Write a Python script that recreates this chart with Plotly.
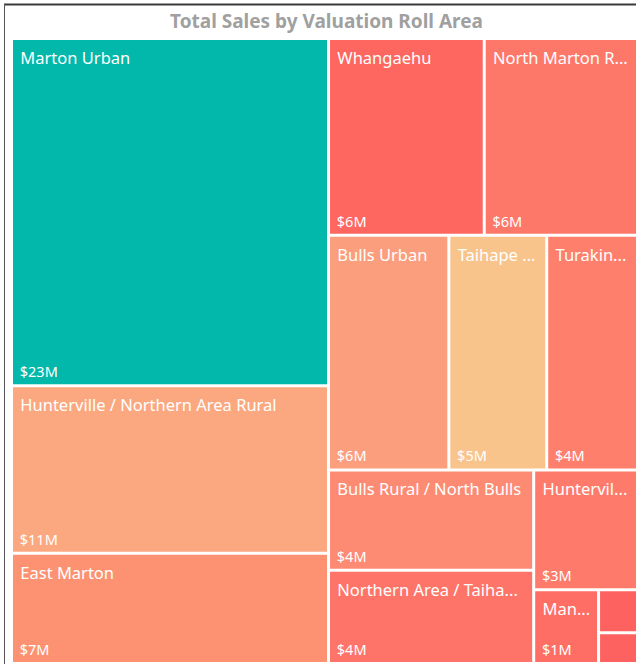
import plotly.graph_objects as go

# ---- data (values in $ millions) ----
areas = [
    "Marton Urban", "Hunterville / Northern Area Rural", "East Marton",
    "Whangaehu", "North Marton R...", "Bulls Urban", "Taihape ...",
    "Turakin...", "Bulls Rural / North Bulls", "Northern Area / Taiha...",
    "Huntervil...", "Man...", "Other A", "Other B",
]
sales_m = [23.0, 11.1, 7.3, 6.4, 6.3, 5.9, 4.8, 4.45, 4.3, 4.0, 2.6, 1.0, 0.35, 0.25]
colors = [
    "#01B8AA", "#FBA880", "#FC9272", "#FE6660", "#FE786A", "#FB9E7E",
    "#F9C48C", "#FE7F6C", "#FD8B74", "#FE7468", "#FE7A6A", "#FE6E64",
    "#FE6260", "#FE6260",
]
show_text = [True] * 12 + [False, False]
parents = [""] * len(areas)

W, H = 636, 664
ML, MR, MT, MB = 13, 0, 40, 2
FONT = "Noto Sans"
NAME_SIZE = 16.5
NB = "\u00a0"

name_tpl = [
    NB + "<span style='baseline-shift:-3px'>%{label}</span>" if s else ""
    for s in show_text
]
value_tpl = [NB + "$%{value:.0f}M" if s else "" for s in show_text]

common = dict(
    labels=areas, parents=parents, values=sales_m,
    sort=True, branchvalues="remainder",
    tiling=dict(packing="squarify", squarifyratio=1.618, pad=3),
    pathbar=dict(visible=False),
    root=dict(color="rgba(0,0,0,0)"),
)
nopad = dict(t=0, l=0, r=0, b=0)

fig = go.Figure()
fig.add_trace(go.Treemap(
    **common,
    marker=dict(colors=colors, line=dict(width=0), pad=nopad),
    texttemplate=name_tpl,
    textposition="top left",
    textfont=dict(family=FONT, size=NAME_SIZE, color="white"),
    hovertemplate="%{label}<br>$%{value:.1f}M<extra></extra>",
))
fig.add_trace(go.Treemap(
    **common,
    marker=dict(colors=["rgba(0,0,0,0)"] * len(areas), line=dict(width=0), pad=nopad),
    texttemplate=value_tpl,
    textposition="bottom left",
    textfont=dict(family=FONT, size=14.5, color="white"),
    hoverinfo="skip",
))

pw = W - ML - MR
ph = H - MT - MB
def px_x(x):
    return (x - ML) / pw
def px_y(y):
    return 1 - (y - MT) / ph

fig.update_layout(
    width=W, height=H,
    margin=dict(l=ML, r=MR, t=MT, b=MB),
    paper_bgcolor="white",
    title=dict(
        text="<b>Total Sales by Valuation Roll Area</b>",
        x=326.5 / W, xanchor="center", y=1 - 21 / H, yanchor="middle",
        font=dict(family=FONT, size=19, color="#A0A0A0"),
    ),
    shapes=[
        dict(type="line", xref="paper", yref="paper",
             x0=px_x(4), x1=px_x(640), y0=px_y(4.5), y1=px_y(4.5),
             line=dict(color="#3A3A3A", width=2)),
        dict(type="line", xref="paper", yref="paper",
             x0=px_x(4.5), x1=px_x(4.5), y0=px_y(4), y1=px_y(668),
             line=dict(color="#555555", width=1)),
    ],
)

fig.write_html(
    "out.html",
    config={"displayModeBar": False},
    post_script="document.body.style.margin='0';document.body.style.overflow='hidden';",
)
